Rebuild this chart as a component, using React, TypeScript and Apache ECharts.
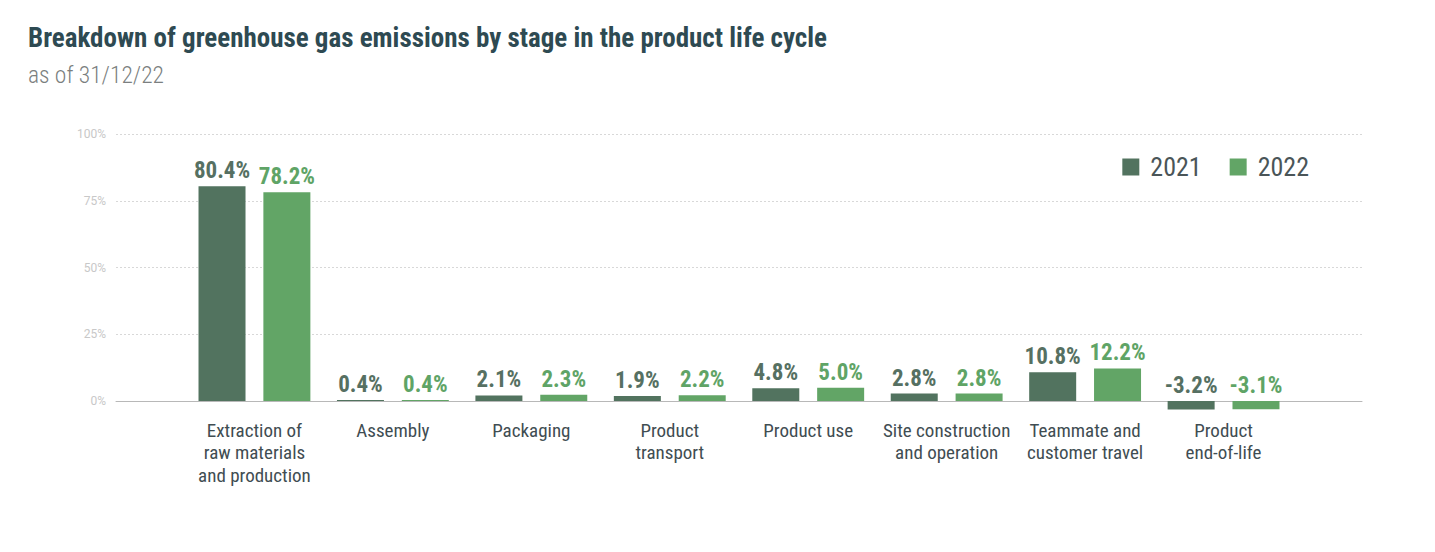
import React, { useEffect, useRef } from "react";
import * as echarts from "echarts";

const categories = [
  "",
  "Extraction of\nraw materials\nand production",
  "Assembly",
  "Packaging",
  "Product\ntransport",
  "Product use",
  "Site construction\nand operation",
  "Teammate and\ncustomer travel",
  "Product\nend-of-life",
  "",
];
const values2021: (number | string)[] = ["-", 80.4, 0.4, 2.1, 1.9, 4.8, 2.8, 10.8, -3.2, "-"];
const values2022: (number | string)[] = ["-", 78.2, 0.4, 2.3, 2.2, 5.0, 2.8, 12.2, -3.1, "-"];
const yTicks = [0, 25, 50, 75, 100];

const FONT = "'Roboto Condensed', 'Liberation Sans Narrow', Roboto, sans-serif";
const DARK = "#52735f";
const LIGHT = "#62a566";

export default function App() {
  const ref = useRef<HTMLDivElement>(null);
  useEffect(() => {
    if (!ref.current) return;
    const chart = echarts.init(ref.current, undefined, { renderer: "svg" });
    chart.setOption({
      animation: false,
      backgroundColor: "#ffffff",
      textStyle: { fontFamily: FONT },
      title: [
        {
          text: "Breakdown of greenhouse gas emissions by stage in the product life cycle",
          left: 23,
          top: 19,
          textStyle: { fontFamily: FONT, fontSize: 27, fontWeight: "bold", color: "#2e4a52" },
        },
        {
          text: "as of 31/12/22",
          left: 23,
          top: 58,
          textStyle: { fontFamily: FONT, fontSize: 23.5, fontWeight: 300, color: "#7b7f80" },
        },
      ],
      legend: {
        right: 121,
        top: 149,
        itemWidth: 17,
        itemHeight: 17,
        itemGap: 28,
        icon: "rect",
        textStyle: { fontFamily: FONT, fontSize: 26, color: "#4a5558", padding: [0, 0, 0, 6] },
        data: ["2021", "2022"],
      },
      grid: { left: 116, right: 73, top: 134, bottom: 151, containLabel: false },
      xAxis: {
        type: "category",
        data: categories,
        boundaryGap: false,
        axisLine: { lineStyle: { color: "#b8b8b8", width: 1 } },
        axisTick: { show: false },
        axisLabel: {
          interval: 0,
          color: "#3f4d52",
          fontSize: 19,
          lineHeight: 22.5,
          margin: 18,
          fontFamily: FONT,
        },
        splitLine: { show: false },
      },
      yAxis: {
        type: "value",
        min: 0,
        max: 100,
        interval: 25,
        axisLine: { show: false },
        axisTick: { show: false },
        axisLabel: {
          color: "#c8c8c8",
          fontSize: 12,
          margin: 10,
          fontFamily: "Roboto, sans-serif",
          formatter: (v: number) => (yTicks.includes(v) ? v + "%" : ""),
        },
        splitLine: { lineStyle: { color: "#d8d8d8", type: [2, 2], width: 1 } },
      },
      series: [
        {
          name: "2021",
          type: "bar",
          data: values2021,
          barWidth: 47,
          barGap: "38%",
          clip: false,
          itemStyle: { color: DARK },
          label: {
            show: true,
            position: "top",
            distance: 4,
            fontFamily: FONT,
            fontSize: 23,
            fontWeight: "bold",
            color: "#567062",
            formatter: (p: any) => p.value.toFixed(1) + "%",
          },
        },
        {
          name: "2022",
          type: "bar",
          data: values2022,
          barWidth: 47,
          barGap: "38%",
          clip: false,
          itemStyle: { color: LIGHT },
          label: {
            show: true,
            position: "top",
            distance: 4,
            fontFamily: FONT,
            fontSize: 23,
            fontWeight: "bold",
            color: "#5fa466",
            formatter: (p: any) => p.value.toFixed(1) + "%",
          },
        },
      ],
    });
    return () => chart.dispose();
  }, []);
  return (
    <div
      ref={ref}
      style={{ position: "fixed", left: 0, top: 0, width: 1435, height: 552 }}
    />
  );
}
